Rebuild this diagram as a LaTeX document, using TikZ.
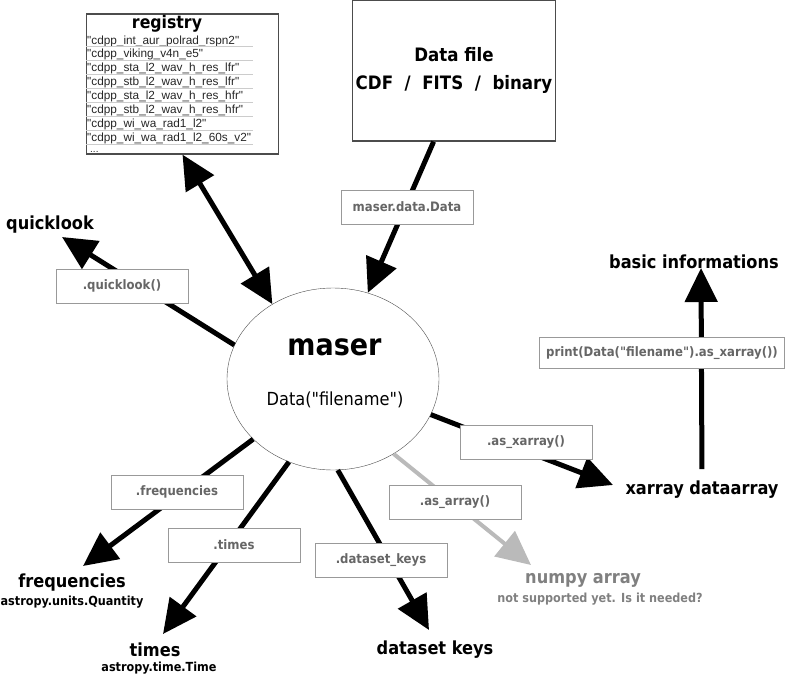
\documentclass[tikz,border=0pt]{standalone}
\usepackage{fontspec}
\setmainfont{DejaVu Sans Condensed}[BoldFont={DejaVu Sans Condensed Bold},Ligatures=TeXOff]
\newfontfamily\listfont{Liberation Sans}[Ligatures=TeXOff]
\usepackage{tikz}
\usetikzlibrary{arrows.meta,shapes.geometric}

\begin{document}
\begin{tikzpicture}[x=1pt,y=-1pt,
    arr/.style={line width=5pt,-{Triangle[length=34pt,width=32pt]}},
    callbox/.style={draw=black!40,fill=white,text=black!60,font=\bfseries\fontsize{13}{15}\selectfont,minimum width=132pt,minimum height=34pt,inner sep=0pt},
    target/.style={font=\bfseries\fontsize{18}{20}\selectfont,inner sep=0pt},
    subtarget/.style={font=\bfseries\fontsize{12.5}{14}\selectfont,inner sep=0pt},
    entry/.style={font=\listfont\fontsize{11.8}{13}\selectfont,text=black!85,anchor=west,inner sep=0pt}]
    \useasboundingbox (0,0) rectangle (786,677);

    % sources
    \node [draw=black!70,line width=1.3pt,minimum width=192pt,minimum height=141pt,align=center,
           font=\bfseries\fontsize{18.5}{28}\selectfont] (datafile) at (454,70.5)
          {Data file\\CDF~~/~~FITS~~/~~binary};
    \node [draw=black!70,line width=1.2pt,minimum width=192pt,minimum height=140pt] (registry) at (182.5,84) {};
    \node [font=\bfseries\fontsize{17.5}{20}\selectfont,inner sep=0pt] (registrytitle) at (167,24) {registry};
    \foreach \entry [count=\i] in {cdpp\_int\_aur\_polrad\_rspn2,cdpp\_viking\_v4n\_e5,
        cdpp\_sta\_l2\_wav\_h\_res\_lfr,cdpp\_stb\_l2\_wav\_h\_res\_lfr,
        cdpp\_sta\_l2\_wav\_h\_res\_hfr,cdpp\_stb\_l2\_wav\_h\_res\_hfr,
        cdpp\_wi\_wa\_rad1\_l2,cdpp\_wi\_wa\_rad1\_l2\_60s\_v2} {
        \node [entry] (entry\i) at (87,27.1+13.9*\i) {"\entry"};
        \draw [black!20,line width=1.2pt] (86,32.9+13.9*\i) -- (253,32.9+13.9*\i);
    }
    \node [entry,font=\listfont\fontsize{10}{11}\selectfont] (entrymore) at (90,152) {...};

    % the package
    \node [ellipse,draw=black!70,minimum width=212pt,minimum height=182pt,inner sep=0pt] (maser) at (333,379) {};
    \node [font=\bfseries\fontsize{30}{32}\selectfont,inner sep=0pt] (masername) at (334.5,347) {maser};
    \node [font=\fontsize{18}{20}\selectfont,inner sep=0pt] (masercall) at (335,400) {Data("filename")};

    % results
    \node [target] (quicklook) at (50,225) {quicklook};
    \node [target] (freq) at (72,583) {frequencies};
    \node [subtarget] (freqtype) at (72,602) {astropy.units.Quantity};
    \node [target] (times) at (155,650) {times};
    \node [subtarget] (timestype) at (159,668) {astropy.time.Time};
    \node [target] (keys) at (435,650) {dataset keys};
    \node [target,text=black!50] (numpy) at (583,580) {numpy array};
    \node [subtarget,text=black!50] (numpynote) at (600,599) {not supported yet. Is it needed?};
    \node [target] (xarray) at (702,490) {xarray dataarray};
    \node [target] (basic) at (694,262) {basic informations};

    \coordinate (quicklookin) at (62,237);
    \coordinate (freqin) at (83,566);
    \coordinate (timesin) at (163,634);
    \coordinate (keysin) at (429,630);
    \coordinate (numpyin) at (531,565);
    \coordinate (xarrayin) at (613,485);
    \coordinate (basicin) at (701,268);

    \draw [arr] (datafile.-106) -- (maser.68);
    \draw [line width=5pt,{Triangle[length=34pt,width=32pt]}-{Triangle[length=34pt,width=32pt]}] (registry.south) -- (maser.129);
    \draw [arr] (maser.161) -- (quicklookin);
    \draw [arr] (maser.-143) -- (freqin);
    \draw [arr] (maser.-118) -- (timesin);
    \draw [arr] (maser.-87) -- (keysin);
    \draw [arr,black!27,line width=4pt] (maser.-51) -- (numpyin);
    \draw [arr] (maser.-20) -- (xarrayin);
    \draw [arr,shorten <=12pt] (xarray.north) -- (basicin);

    % method calls
    \node [callbox] (datacall) at (407,207) {maser.data.Data};
    \node [callbox] (quickcall) at (122,286) {.quicklook()};
    \node [callbox] (xarraycall) at (526,442) {.as\_xarray()};
    \node [callbox] (arraycall) at (455,502) {.as\_array()};
    \node [callbox] (freqcall) at (177,492) {.frequencies};
    \node [callbox] (timescall) at (234,545) {.times};
    \node [callbox] (keyscall) at (381,560) {.dataset\_keys};
    \node [callbox,minimum width=245pt,minimum height=31pt] (printcall) at (662,353) {print(Data("filename").as\_xarray())};
\end{tikzpicture}
\end{document}
